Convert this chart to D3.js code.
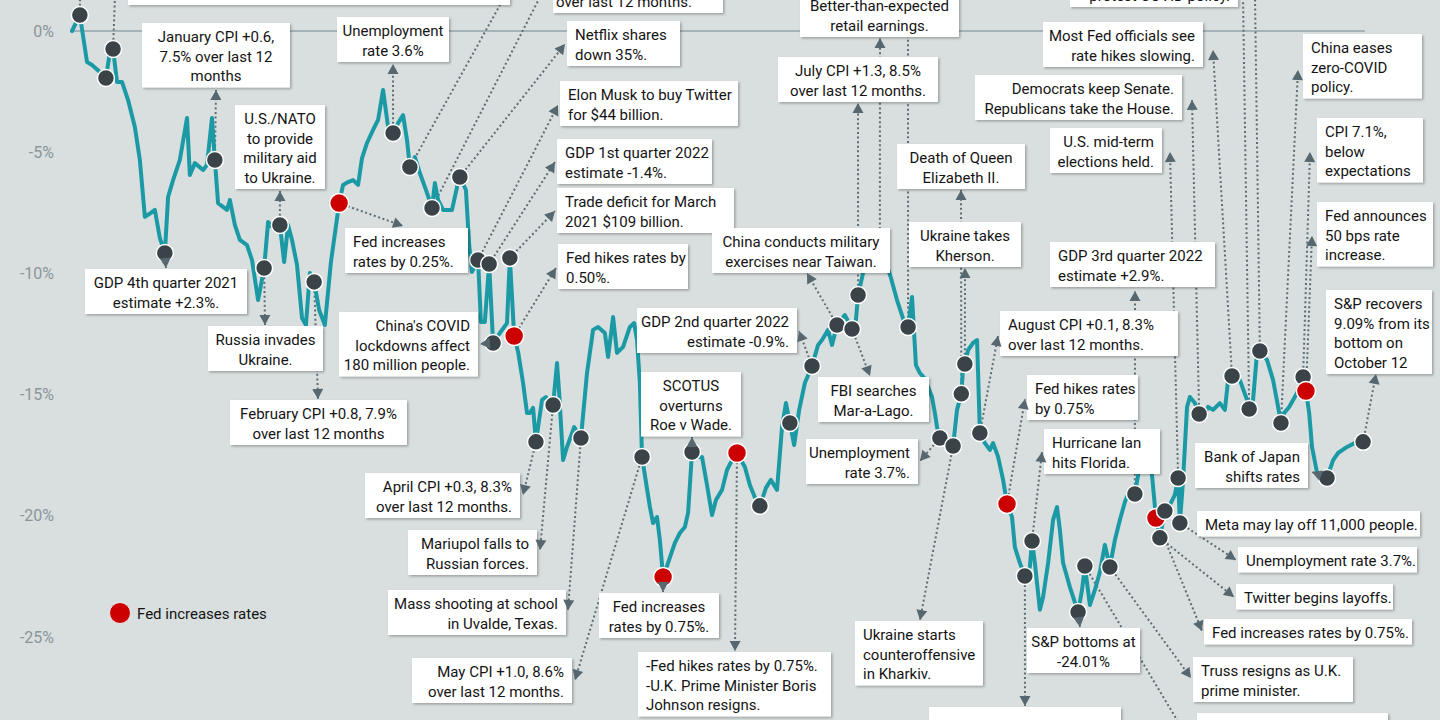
<!DOCTYPE html>
<html><head><meta charset="utf-8">
<script src="https://cdn.jsdelivr.net/npm/d3@7"></script>
<style>
html,body{margin:0;padding:0;background:#d8dfde;overflow:hidden}
svg{display:block}
text{font-family:Roboto,"Open Sans",sans-serif}
</style></head><body>
<svg id="c" width="1440" height="720"></svg>
<script>
// ---- DATA: S&P 500 year-to-date % change, 2022 (day of year, percent) ----
const days = [0,2.2,4.2,5.6,7.8,9.5,10.4,11.5,12.6,14.0,
15.7,17.6,19.0,20.4,21.6,23.2,24.6,26.0,26.9,28.3,
30.2,32.2,33.0,34.4,36.7,37.8,39.2,40.0,40.9,43.4,
44.2,45.6,47.0,49.0,50.4,52.1,53.8,54.9,56.3,58.2,
59.4,60.5,61.6,63.0,64.4,65.5,66.6,67.8,69.2,70.8,
72.5,74.8,75.9,77.3,78.7,80.1,81.2,82.6,84.3,85.7,
87.1,88.5,89.9,91.3,92.7,93.8,94.6,96.0,97.4,99.4,
100.8,101.6,102.5,103.9,106.4,107.8,108.6,110.3,111.2,112.0,
113.7,114.5,115.6,116.8,117.9,119.8,121.8,122.6,123.8,124.9,
126.3,127.4,128.2,129.1,129.9,131.6,132.7,134.7,135.8,136.4,
137.5,138.6,140.6,142.5,144.2,145.9,147.3,149.2,150.1,151.5,
152.6,154.3,156.2,157.4,158.2,159.0,159.6,161.8,162.7,163.8,
164.6,165.5,166.9,168.8,170.2,171.6,172.5,173.6,175.0,176.4,
177.8,179.2,180.3,182.0,183.4,184.8,186.2,188.4,189.8,191.5,
192.6,194.3,195.7,197.4,198.8,199.9,201.0,202.2,203.6,205.2,
207.2,208.9,210.0,211.7,212.8,214.2,216.4,218.4,219.5,220.1,
221.5,222.9,224.6,226.2,227.9,229.3,231.0,233.0,234.1,235.2,
236.3,237.4,238.6,239.7,240.8,241.6,242.2,243.0,245.0,246.7,
247.8,249.0,249.5,250.0,250.9,252.3,253.4,253.7,254.2,255.6,
257.0,257.9,259.3,260.7,261.8,263.2,264.0,265.4,266.8,268.2,
268.8,269.6,271.0,271.9,273.3,274.7,275.8,276.6,277.5,279.4,
281.7,282.8,283.6,285.0,286.4,287.8,289.2,290.6,292.0,293.4,
294.8,296.2,297.6,299.0,300.2,301.3,302.4,303.5,304.6,306.0,
307.4,308.8,309.7,310.2,311.1,312.2,313.0,314.4,315.6,316.7,
318.1,319.5,321.4,322.8,323.7,324.8,327.0,329.0,329.6,330.7,
331.8,332.6,334.6,336.3,337.7,338.5,339.4,340.8,343.0,344.7,
345.5,346.4,347.2,348.6,350.0,351.4,353.1,354.5,357.0,359.8,
361.5];
const pct = [0,0.66,-1.28,-1.40,-1.69,-1.94,-1.07,-0.74,-2.10,-2.10,
-2.85,-3.96,-5.32,-7.67,-7.55,-7.38,-8.54,-9.16,-6.85,-6.15,
-5.32,-3.59,-5.94,-5.45,-5.73,-5.53,-3.59,-5.32,-7.10,-7.38,
-6.97,-8.00,-8.62,-8.83,-9.45,-11.10,-9.78,-7.88,-8.13,-8.00,
-9.53,-8.00,-8.62,-9.65,-11.84,-12.13,-9.98,-10.35,-11.51,-12.13,
-9.53,-7.10,-6.35,-6.23,-6.15,-6.35,-5.24,-4.62,-4.08,-3.67,
-2.43,-3.96,-4.21,-3.80,-3.47,-4.50,-5.61,-5.20,-5.86,-6.68,
-7.30,-6.27,-6.97,-7.38,-7.38,-6.44,-6.02,-6.56,-8.83,-9.94,
-9.45,-12.00,-12.00,-9.61,-12.87,-12.46,-12.05,-9.36,-12.58,-13.24,
-14.52,-15.76,-15.76,-15.55,-16.95,-15.22,-15.10,-15.43,-13.70,-14.93,
-17.70,-17.16,-16.34,-16.79,-14.11,-12.33,-12.21,-12.46,-13.45,-11.80,
-13.28,-13.03,-12.21,-12.05,-12.75,-14.52,-17.57,-19.63,-20.30,-20.05,
-21.00,-22.52,-21.94,-21.12,-20.71,-20.46,-19.88,-17.37,-17.57,-17.57,
-18.73,-19.97,-19.35,-18.93,-18.11,-17.70,-17.41,-17.99,-18.73,-19.35,
-19.59,-18.85,-18.52,-18.93,-16.34,-15.35,-16.17,-17.08,-15.63,-14.52,
-13.82,-12.95,-12.75,-12.33,-12.95,-12.13,-11.72,-12.29,-11.92,-10.89,
-9.98,-8.83,-9.36,-9.12,-9.53,-10.19,-11.10,-12.00,-12.21,-10.97,
-13.78,-14.11,-14.31,-14.69,-15.10,-15.76,-16.34,-16.79,-16.87,-17.12,
-15.63,-14.97,-13.90,-13.74,-13.16,-12.87,-12.75,-14.11,-16.58,-17.00,
-17.28,-17.00,-17.57,-18.52,-19.51,-20.05,-21.29,-21.95,-22.48,-22.11,
-21.04,-21.95,-23.88,-23.35,-21.95,-20.17,-19.64,-20.58,-21.95,-22.94,
-23.97,-23.06,-22.07,-23.68,-23.06,-22.32,-21.20,-22.11,-21.00,-20.17,
-19.43,-18.93,-19.10,-17.90,-17.28,-17.61,-18.32,-20.09,-20.91,-19.80,
-19.55,-19.14,-18.44,-20.30,-18.52,-15.51,-15.10,-15.35,-15.80,-15.92,
-15.51,-15.63,-15.35,-15.63,-14.40,-14.23,-14.40,-15.22,-15.59,-15.22,
-13.28,-13.20,-13.57,-14.40,-15.51,-16.17,-15.76,-15.51,-14.93,-14.27,
-14.85,-15.76,-17.16,-18.23,-18.44,-18.44,-17.70,-17.41,-17.16,-16.95,
-16.95];
// indices of points that carry an event marker
const eventPoints = [1,5,7,17,27,36,39,47,51,62,66,70,76,80,83,84,87,88,94,97,103,116,121,127,136,140,146,150,155,157,159,163,168,177,179,181,183,188,194,198,200,210,212,217,222,227,228,229,232,233,238,245,248,251,255,259,260,265,270];
const fedPoints = [51,88,121,136,194,227,260];
const yTicks = [0,-5,-10,-15,-20,-25];
const legendLabel = "Fed increases rates";
const noteText = [
"January CPI +0.6,|7.5% over last 12|months",
"U.S./NATO|to provide|military aid|to Ukraine.",
"Unemployment|rate 3.6%",
"Netflix shares|down 35%.",
"Elon Musk to buy Twitter|for $44 billion.",
"GDP 1st quarter 2022|estimate -1.4%.",
"Trade deficit for March|2021 $109 billion.",
"Fed increases|rates by 0.25%.",
"Fed hikes rates by|0.50%.",
"China's COVID|lockdowns affect|180 million people.",
"GDP 4th quarter 2021|estimate +2.3%.",
"Russia invades|Ukraine.",
"February CPI +0.8, 7.9%|over last 12 months",
"April CPI +0.3, 8.3%|over last 12 months.",
"Mariupol falls to|Russian forces.",
"Mass shooting at school|in Uvalde, Texas.",
"May CPI +1.0, 8.6%|over last 12 months.",
"Fed increases|rates by 0.75%.",
"-Fed hikes rates by 0.75%.|-U.K. Prime Minister Boris|Johnson resigns.",
"SCOTUS|overturns|Roe v Wade.",
"GDP 2nd quarter 2022|estimate -0.9%.",
"China conducts military|exercises near Taiwan.",
"FBI searches|Mar-a-Lago.",
"July CPI +1.3, 8.5%|over last 12 months.",
"Better-than-expected|retail earnings.",
"Death of Queen|Elizabeth II.",
"Ukraine takes|Kherson.",
"Unemployment|rate 3.7%.",
"Ukraine starts|counteroffensive|in Kharkiv.",
"August CPI +0.1, 8.3%|over last 12 months.",
"Fed hikes rates|by 0.75%",
"Hurricane Ian|hits Florida.",
"S&P bottoms at|-24.01%",
"U.S. warns Russia not to",
"Truss resigns as U.K.|prime minister.",
"GDP 3rd quarter 2022|estimate +2.9%.",
"Fed increases rates by 0.75%.",
"Twitter begins layoffs.",
"Meta may lay off 11,000 people.",
"Unemployment rate 3.7%.",
"U.S. mid-term|elections held.",
"Democrats keep Senate.|Republicans take the House.",
"Most Fed officials see|rate hikes slowing.",
"China eases|zero-COVID|policy.",
"CPI 7.1%,|below|expectations",
"Fed announces|50 bps rate|increase.",
"Bank of Japan|shifts rates",
"S&P recovers|9.09% from its|bottom on|October 12",
"over last 12 months.",
"protest COVID policy.",
"","","","","","","","",""
];

// ---- LAYOUT of the annotation boxes (pixels) ----
const noteLayout = [
{p:27,tip:[216,90],box:[142,23,148],al:"middle"},
{p:39,tip:[280,191],box:[235,105,90],al:"middle"},
{p:62,tip:[393,64],box:[337,17,112],al:"middle"},
{p:76,tip:[565,44],box:[567,21,113],al:"start"},
{p:80,tip:[558,105],box:[560,81,178],al:"start"},
{p:83,tip:[555,162],box:[557,139,155],al:"start"},
{p:87,tip:[555,211],box:[557,188,177],al:"start"},
{p:51,tip:[403,226],box:[345,228,123],al:"start"},
{p:88,tip:[556,268],box:[558,244,130],al:"start"},
{p:84,tip:[480,344],box:[339,312,139],al:"end"},
{p:17,tip:[166,268],box:[85,269,162],al:"middle"},
{p:36,tip:[265,325],box:[208,326,115],al:"middle"},
{p:47,tip:[318,399],box:[230,400,177],al:"middle"},
{p:94,tip:[523,495],box:[365,473,155],al:"end"},
{p:97,tip:[540,550],box:[408,530,129],al:"end"},
{p:103,tip:[568,610],box:[388,590,178],al:"end"},
{p:116,tip:[575,680],box:[412,658,160],al:"end"},
{p:121,tip:[663,592],box:[599,593,120],al:"middle"},
{p:136,tip:[735,651],box:[638,652,193],al:"start"},
{p:127,tip:[692,437],box:[641,372,100],al:"middle"},
{p:150,tip:[799,331],box:[637,308,160],al:"end"},
{p:155,tip:[807,273],box:[712,228,178],al:"middle"},
{p:157,tip:[870,376],box:[818,377,111],al:"middle"},
{p:159,tip:[858,103],box:[778,57,160],al:"middle"},
{p:163,tip:[880,38],box:[800,-8,159],al:"middle"},
{p:181,tip:[961,190],box:[897,144,128],al:"middle"},
{p:183,tip:[965,268],box:[909,222,112],al:"middle"},
{p:177,tip:[920,461],box:[806,439,112],al:"end"},
{p:179,tip:[920,620],box:[855,621,128],al:"start"},
{p:188,tip:[998,336],box:[1000,311,178],al:"start"},
{p:194,tip:[1025,399],box:[1027,375,111],al:"start"},
{p:200,tip:[1042,452],box:[1044,429,116],al:"start"},
{p:210,tip:[1080,627],box:[1027,628,113],al:"middle"},
{p:198,tip:[1025,706],box:[929,707,192],al:"start",h:45},
{p:217,tip:[1191,678],box:[1193,657,160],al:"start"},
{p:222,tip:[1135,291],box:[1050,242,165],al:"start"},
{p:227,tip:[1202,631],box:[1204,619,208],al:"start"},
{p:228,tip:[1234,597],box:[1236,584,157],al:"start"},
{p:null,box:[1197,511,223],al:"start"},
{p:233,tip:[1236,560],box:[1238,547,179],al:"start"},
{p:232,tip:[1170,152],box:[1050,128,112],al:"end"},
{p:238,tip:[1192,100],box:[975,75,207],al:"end"},
{p:245,tip:[1213,50],box:[1043,22,160],al:"end"},
{p:255,tip:[1298,70],box:[1303,34,119],al:"start"},
{p:259,tip:[1310,152],box:[1317,118,106],al:"start"},
{p:260,tip:[1312,236],box:[1317,202,116],al:"start"},
{p:265,tip:[1312,472],box:[1195,443,113],al:"end"},
{p:270,tip:[1376,374],box:[1326,290,106],al:"start"},
{p:null,box:[553,-32,170],al:"start",h:45,pad:3},
{p:null,box:[1070,-40,168],al:"end",h:47},
{p:212,tip:[1180,725],arrow:false,box:[1197,713,191],h:40},
{p:null,box:[128,-40,382],h:45},
{p:1,tip:[80,-5],arrow:false},
{p:7,tip:[115,-5],arrow:false},
{p:66,tip:[500,5],arrow:false},
{p:70,tip:[541,-5],arrow:false},
{p:168,tip:[908,37],arrow:false},
{p:248,tip:[1243,-5],arrow:false},
{p:251,tip:[1255,-5],arrow:false}
];

const W = 1440, H = 720;
const svg = d3.select("#c");
const x = d3.scaleLinear().domain([0,365]).range([72,1375.6]);
const y = d3.scaleLinear().domain([0,-25]).range([31,637]);

const defs = svg.append("defs");
const f = defs.append("filter").attr("id","sh").attr("x","-10%").attr("y","-10%").attr("width","130%").attr("height","140%");
f.append("feDropShadow").attr("dx",1.5).attr("dy",1.5).attr("stdDeviation",1.2).attr("flood-color","#000").attr("flood-opacity",0.28);

svg.append("rect").attr("width",W).attr("height",H).attr("fill","#d8dfde");

// zero line
svg.append("line").attr("x1",x(0)).attr("x2",x(362)).attr("y1",y(0)).attr("y2",y(0))
  .attr("stroke","#95a4ab").attr("stroke-width",1.5);

// y axis
const ax = svg.append("g").attr("transform","translate(57,0)")
  .call(d3.axisLeft(y).tickValues(yTicks).tickSize(0).tickPadding(3).tickFormat(d=>d+"%"));
ax.select(".domain").remove();
ax.selectAll("text").attr("font-family","Roboto").attr("font-size",16).attr("fill","#8b959a");

const notes = noteText.map((t,i)=>Object.assign({text:t}, noteLayout[i]));
const pt = i => [x(days[i]), y(pct[i])];

// connectors
const gc = svg.append("g");
notes.filter(n=>n.p!=null && n.tip).forEach(n=>{
  const [sx,sy] = pt(n.p);
  gc.append("line").attr("x1",sx).attr("y1",sy).attr("x2",n.tip[0]).attr("y2",n.tip[1])
    .attr("stroke","#5d6d75").attr("stroke-width",2).attr("stroke-dasharray","2,2.6");
});

// series line
const idx = d3.range(Math.min(days.length,pct.length));
svg.append("path").datum(idx)
  .attr("d", d3.line().x(i=>x(days[i])).y(i=>y(pct[i])))
  .attr("fill","none").attr("stroke","#1b9aa6").attr("stroke-width",4)
  .attr("stroke-linejoin","round").attr("stroke-linecap","round");

// event dots
svg.append("g").selectAll("circle").data(eventPoints).join("circle")
  .attr("cx",i=>x(days[i])).attr("cy",i=>y(pct[i]))
  .attr("r",i=>fedPoints.includes(i)?9.5:8.5)
  .attr("fill",i=>fedPoints.includes(i)?"#cc0000":"#3a4347")
  .attr("stroke","#fff").attr("stroke-width",1.5);

// boxes
const gb = svg.append("g");
notes.filter(n=>n.box).forEach(n=>{
  const lines = n.text ? n.text.split("|") : [];
  const [bx,by,bw] = n.box;
  const bh = n.h || (19.5*lines.length + 6);
  gb.append("rect").attr("x",bx).attr("y",by).attr("width",bw).attr("height",bh)
    .attr("fill","#fff").attr("filter","url(#sh)");
  const pad = n.pad!=null ? n.pad : 8;
  const tx = n.al==="middle" ? bx+bw/2 : n.al==="end" ? bx+bw-pad : bx+pad;
  lines.forEach((l,k)=>{
    gb.append("text").attr("x",tx).attr("y",by+bh-6.5-19.5*(lines.length-1-k))
      .attr("text-anchor",n.al).attr("font-size",15).attr("fill","#141414").text(l);
  });
});

// arrowheads
const ga = svg.append("g");
notes.filter(n=>n.p!=null && n.tip && n.arrow!==false).forEach(n=>{
  const [sx,sy] = pt(n.p);
  const [tx,ty] = n.tip;
  let dx = tx-sx, dy = ty-sy; const L = Math.hypot(dx,dy)||1; dx/=L; dy/=L;
  const nx = -dy, ny = dx, len = 10, hw = 5.5;
  const bx = tx-dx*len, by = ty-dy*len;
  ga.append("path").attr("d",`M${tx},${ty}L${bx+nx*hw},${by+ny*hw}L${bx-nx*hw},${by-ny*hw}Z`)
    .attr("fill","#56676f");
});

// legend
svg.append("circle").attr("cx",120).attr("cy",613).attr("r",10.5).attr("fill","#cc0000").attr("stroke","#e8eceb").attr("stroke-width",1);
svg.append("text").attr("x",137).attr("y",618.5).attr("font-size",15).attr("fill","#141414").text(legendLabel);
</script>
</body></html>
